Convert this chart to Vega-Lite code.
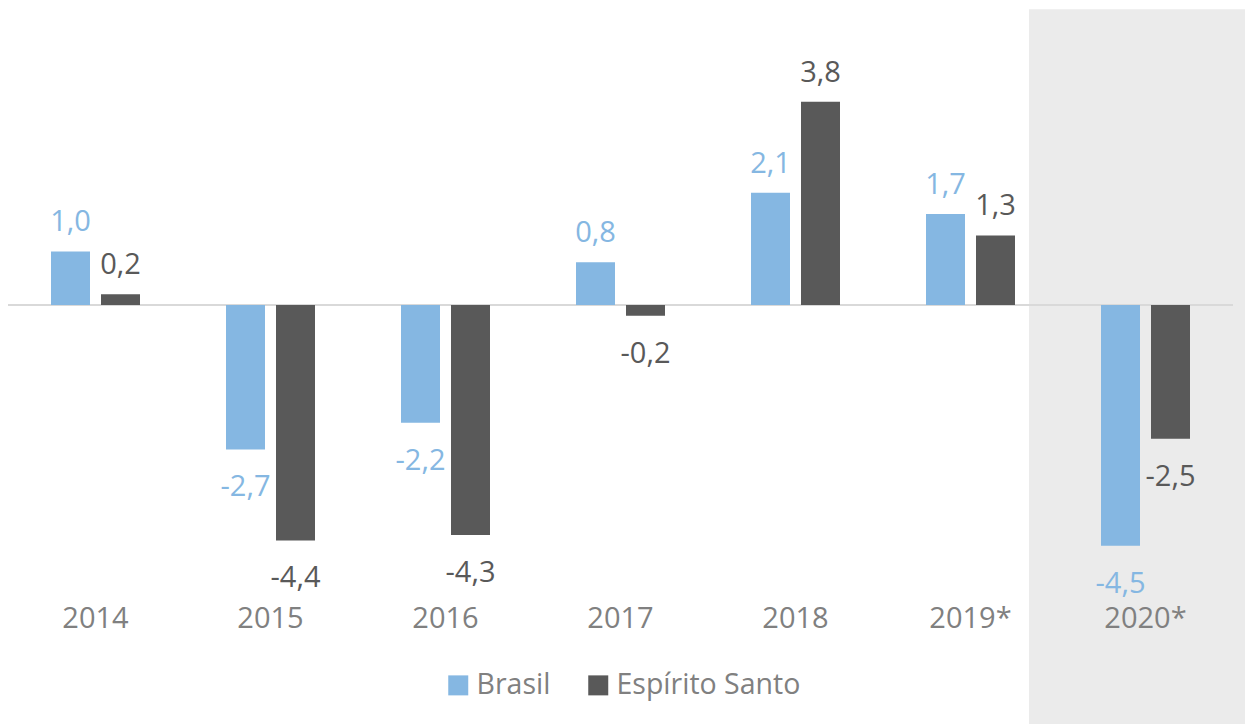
{
  "$schema": "https://vega.github.io/schema/vega-lite/v6.json",
  "width": 1225,
  "height": 590,
  "autosize": {"type": "none"},
  "padding": {"left": 8, "top": 10, "right": 12, "bottom": 124},
  "background": "white",
  "config": {
    "view": {"stroke": null},
    "font": "Open Sans",
    "locale": {"number": {"decimal": ",", "thousands": ".", "grouping": [3], "currency": ["R$", ""], "minus": "-"}}
  },
  "data": {
    "values": [
      {"year": "2014", "series": "Brasil", "value": 1.0},
      {"year": "2014", "series": "Espírito Santo", "value": 0.2},
      {"year": "2015", "series": "Brasil", "value": -2.7},
      {"year": "2015", "series": "Espírito Santo", "value": -4.4},
      {"year": "2016", "series": "Brasil", "value": -2.2},
      {"year": "2016", "series": "Espírito Santo", "value": -4.3},
      {"year": "2017", "series": "Brasil", "value": 0.8},
      {"year": "2017", "series": "Espírito Santo", "value": -0.2},
      {"year": "2018", "series": "Brasil", "value": 2.1},
      {"year": "2018", "series": "Espírito Santo", "value": 3.8},
      {"year": "2019*", "series": "Brasil", "value": 1.7},
      {"year": "2019*", "series": "Espírito Santo", "value": 1.3},
      {"year": "2020*", "series": "Brasil", "value": -4.5},
      {"year": "2020*", "series": "Espírito Santo", "value": -2.5}
    ]
  },
  "encoding": {
    "x": {
      "field": "year",
      "type": "nominal",
      "sort": null,
      "scale": {"domain": ["2014", "2015", "2016", "2017", "2018", "2019*", "2020*"], "paddingInner": 0, "paddingOuter": 0},
      "axis": {
        "title": null,
        "domain": false,
        "ticks": false,
        "labelAngle": 0,
        "labelFontSize": 29,
        "labelColor": "#808080",
        "labelPadding": 4,
        "labelFont": "Open Sans"
      }
    }
  },
  "layer": [
    {
      "transform": [{"filter": "datum.year == '2020*' && datum.series == 'Brasil'"}],
      "mark": {"type": "rect", "color": "#EBEBEB", "width": 216, "xOffset": -8.5},
      "encoding": {
        "y": {"datum": 5.53, "type": "quantitative", "scale": {"domain": [-5.514, 5.514], "nice": false, "zero": false}, "axis": null},
        "y2": {"datum": -7.9}
      }
    },
    {
      "mark": {"type": "rule", "color": "#D9D9D9", "strokeWidth": 2},
      "encoding": {
        "x": null,
        "y": {"datum": 0, "type": "quantitative", "scale": {"domain": [-5.514, 5.514], "nice": false, "zero": false}, "axis": null}
      }
    },
    {
      "mark": {"type": "bar"},
      "encoding": {
        "xOffset": {
          "field": "series",
          "type": "nominal",
          "sort": ["Brasil", "Espírito Santo"],
          "scale": {"paddingInner": 0.22, "paddingOuter": 0.86}
        },
        "y": {"field": "value", "type": "quantitative", "scale": {"domain": [-5.514, 5.514], "nice": false, "zero": false}, "axis": null},
        "color": {
          "field": "series",
          "type": "nominal",
          "sort": ["Brasil", "Espírito Santo"],
          "scale": {"domain": ["Brasil", "Espírito Santo"], "range": ["#85B7E2", "#595959"]},
          "legend": {
            "title": null,
            "orient": "none",
            "direction": "horizontal",
            "legendX": 436,
            "legendY": 661,
            "symbolType": "square",
            "symbolSize": 400,
            "symbolStrokeWidth": 0,
            "labelFontSize": 28.5,
            "labelColor": "#808080",
            "labelFont": "Open Sans",
            "labelOffset": 4,
            "labelLimit": 400,
            "columnPadding": 33,
            "padding": 0
          }
        }
      }
    },
    {
      "transform": [{"filter": "datum.value >= 0"}],
      "mark": {"type": "text", "baseline": "middle", "align": "center", "dy": -29, "fontSize": 29},
      "encoding": {
        "xOffset": {
          "field": "series",
          "type": "nominal",
          "sort": ["Brasil", "Espírito Santo"],
          "scale": {"paddingInner": 0.22, "paddingOuter": 0.86}
        },
        "y": {"field": "value", "type": "quantitative", "scale": {"domain": [-5.514, 5.514], "nice": false, "zero": false}, "axis": null},
        "text": {"field": "value", "type": "quantitative", "format": ".1f"},
        "color": {"condition": {"test": "datum.series == 'Brasil'", "value": "#85B7E2"}, "value": "#595959"}
      }
    },
    {
      "transform": [{"filter": "datum.value < 0"}],
      "mark": {"type": "text", "baseline": "middle", "align": "center", "dy": 38, "fontSize": 29},
      "encoding": {
        "xOffset": {
          "field": "series",
          "type": "nominal",
          "sort": ["Brasil", "Espírito Santo"],
          "scale": {"paddingInner": 0.22, "paddingOuter": 0.86}
        },
        "y": {"field": "value", "type": "quantitative", "scale": {"domain": [-5.514, 5.514], "nice": false, "zero": false}, "axis": null},
        "text": {"field": "value", "type": "quantitative", "format": ".1f"},
        "color": {"condition": {"test": "datum.series == 'Brasil'", "value": "#85B7E2"}, "value": "#595959"}
      }
    }
  ]
}
